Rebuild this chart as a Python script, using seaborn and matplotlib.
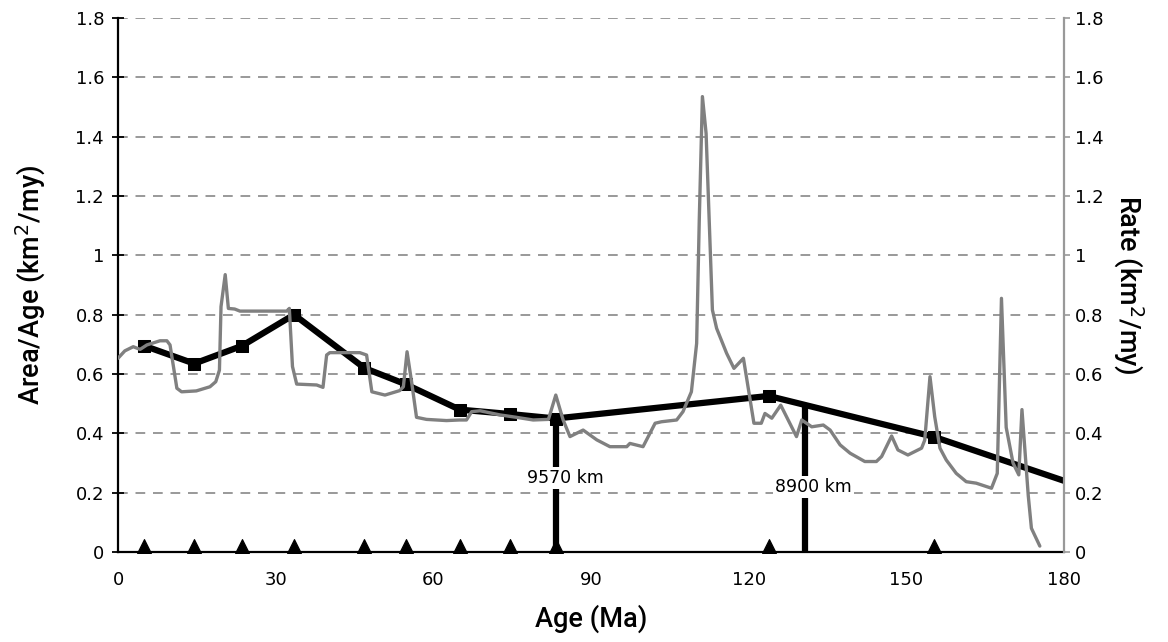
import matplotlib
matplotlib.use("Agg")
import matplotlib.pyplot as plt
import seaborn as sns
import pandas as pd

# ---- data ----
area_age = [5.0, 14.5, 23.6, 33.5, 46.9, 54.8, 65.0, 74.6, 83.3, 123.8, 155.3, 180.0]
area_val = [0.695, 0.635, 0.695, 0.800, 0.620, 0.565, 0.480, 0.465, 0.450, 0.526, 0.388, 0.240]
marker_age = [5.0, 14.5, 23.6, 33.5, 46.9, 54.8, 65.0, 74.6, 83.3, 123.8, 155.3]
marker_val = [0.695, 0.635, 0.695, 0.800, 0.620, 0.565, 0.480, 0.465, 0.450, 0.526, 0.388]

rate_age = [0.0, 1.3, 2.9, 4.2, 5.5, 8.0, 9.3, 9.9, 11.2, 12.1, 14.9, 17.5, 18.6, 19.3,
            19.6, 20.4, 21.0, 22.2, 23.2, 32.1, 32.6, 33.2, 34.0, 37.8, 39.0, 39.7, 40.3,
            46.0, 47.3, 48.3, 50.8, 53.6, 54.3, 55.0, 55.9, 56.8, 58.7, 62.5, 65.0, 66.3,
            67.3, 68.9, 72.7, 75.8, 79.0, 81.9, 83.3, 84.7, 86.0, 88.5, 91.1, 93.6, 96.8,
            97.4, 99.9, 102.2, 103.4, 106.3, 107.5, 109.1, 110.1, 110.6, 111.2, 111.9,
            113.1, 113.9, 115.8, 117.2, 119.0, 121.0, 122.4, 123.1, 124.4, 126.1, 129.1,
            130.1, 132.0, 134.2, 135.5, 137.4, 139.3, 142.1, 144.3, 145.3, 147.2, 148.4,
            150.3, 152.9, 153.5, 154.5, 155.4, 156.4, 157.6, 159.5, 161.4, 163.3, 166.2,
            167.3, 168.1, 169.0, 170.3, 171.4, 172.0, 173.2, 173.8, 175.4]
rate_val = [0.653, 0.678, 0.692, 0.683, 0.698, 0.712, 0.712, 0.698, 0.552, 0.540, 0.543,
            0.557, 0.574, 0.613, 0.827, 0.935, 0.821, 0.819, 0.812, 0.812, 0.821, 0.625,
            0.566, 0.563, 0.555, 0.664, 0.672, 0.672, 0.664, 0.540, 0.529, 0.544, 0.557,
            0.675, 0.569, 0.454, 0.447, 0.443, 0.445, 0.445, 0.473, 0.476, 0.462, 0.454,
            0.445, 0.447, 0.529, 0.445, 0.389, 0.411, 0.378, 0.355, 0.355, 0.366, 0.355,
            0.434, 0.439, 0.445, 0.473, 0.540, 0.703, 1.119, 1.535, 1.411, 0.816, 0.754,
            0.670, 0.619, 0.653, 0.434, 0.434, 0.467, 0.451, 0.495, 0.389, 0.445, 0.422,
            0.428, 0.411, 0.361, 0.333, 0.305, 0.305, 0.322, 0.391, 0.344, 0.327, 0.350,
            0.377, 0.591, 0.456, 0.350, 0.310, 0.265, 0.237, 0.232, 0.215, 0.265, 0.855,
            0.420, 0.300, 0.260, 0.480, 0.190, 0.080, 0.020]

bar_age = [83.3, 130.8]
bar_top = [0.450, 0.491]
bar_labels = ["9570 km", "8900 km"]
bar_label_x = [77.8, 125.0]
bar_label_y = [0.25, 0.22]

x_ticks = [0, 30, 60, 90, 120, 150, 180]
y_ticks = [0, 0.2, 0.4, 0.6, 0.8, 1, 1.2, 1.4, 1.6, 1.8]
y_tick_labels = ["0", "0.2", "0.4", "0.6", "0.8", "1", "1.2", "1.4", "1.6", "1.8"]

# ---- plot ----
sns.set_theme(style="white")
plt.rcParams["font.family"] = ["DejaVu Sans"]
plt.rcParams["text.color"] = "black"
plt.rcParams["axes.labelcolor"] = "black"
plt.rcParams["xtick.color"] = "black"
plt.rcParams["ytick.color"] = "black"

fig, ax = plt.subplots(figsize=(11.68, 6.42), dpi=100)
fig.subplots_adjust(left=118/1168, right=1064/1168, top=1-18/642, bottom=1-552/642)

for y in y_ticks[1:]:
    ax.axhline(y, color="#999999", lw=1.4, ls=(0, (5, 4)), zorder=0)

# vertical bars
for xa, yt in zip(bar_age, bar_top):
    ax.vlines(xa, 0, yt, color="black", lw=4.5, zorder=2)
for t, tx, ty in zip(bar_labels, bar_label_x, bar_label_y):
    ax.text(tx, ty, t, fontsize=12.5, ha="left", va="center", color="black", zorder=3,
            bbox=dict(facecolor="white", edgecolor="none", pad=1.5))

df_area = pd.DataFrame({"age": area_age, "val": area_val})
sns.lineplot(data=df_area, x="age", y="val", ax=ax, color="black", lw=4.5, sort=False, zorder=4)
df_mk = pd.DataFrame({"age": marker_age, "val": marker_val})
sns.scatterplot(data=df_mk, x="age", y="val", ax=ax, marker="s", s=85, color="black",
                edgecolor="black", zorder=5)
df_tri = pd.DataFrame({"age": marker_age, "val": [0.02] * len(marker_age)})
sns.scatterplot(data=df_tri, x="age", y="val", ax=ax, marker="^", s=100, color="black",
                edgecolor="black", zorder=5, clip_on=False)

ax.set_xlim(0, 180)
ax.set_ylim(0, 1.8)
ax.set_xticks(x_ticks)
ax.set_xticklabels([str(v) for v in x_ticks], fontsize=13)
ax.set_yticks(y_ticks)
ax.set_yticklabels(y_tick_labels, fontsize=13)
ax.tick_params(axis="both", direction="inout", length=8, width=1.3, color="black", pad=6)
ax.tick_params(axis="x", pad=10)
for s in ["top", "right"]:
    ax.spines[s].set_visible(False)
for s in ["left", "bottom"]:
    ax.spines[s].set_color("black")
    ax.spines[s].set_linewidth(1.6)

label_font = ["Roboto", "DejaVu Sans"]
ax.set_xlabel("Age (Ma)", fontsize=19.5, family=label_font, fontweight="medium", labelpad=11)
ax.set_ylabel("Area/Age (km$^2$/my)", fontsize=19.5, family=label_font, fontweight="medium",
              labelpad=20)

ax2 = ax.twinx()
df_rate = pd.DataFrame({"age": rate_age, "val": rate_val})
sns.lineplot(data=df_rate, x="age", y="val", ax=ax2, color="#808080", lw=2.4, sort=False)
ax2.set_ylim(0, 1.8)
ax2.set_yticks(y_ticks)
ax2.set_yticklabels(y_tick_labels, fontsize=13)
ax2.tick_params(axis="y", direction="out", length=4, width=1.2, color="#999999", pad=4)
for s in ["top", "left", "bottom"]:
    ax2.spines[s].set_visible(False)
ax2.spines["right"].set_color("#999999")
ax2.spines["right"].set_linewidth(1.6)
ax2.set_xlim(0, 180)
ax2.set_xlabel("")
ax2.set_ylabel("Rate (km$^2$/my)", fontsize=19.5, family=label_font, fontweight="medium",
               rotation=270, labelpad=30)

fig.savefig("out.png", dpi=100)
